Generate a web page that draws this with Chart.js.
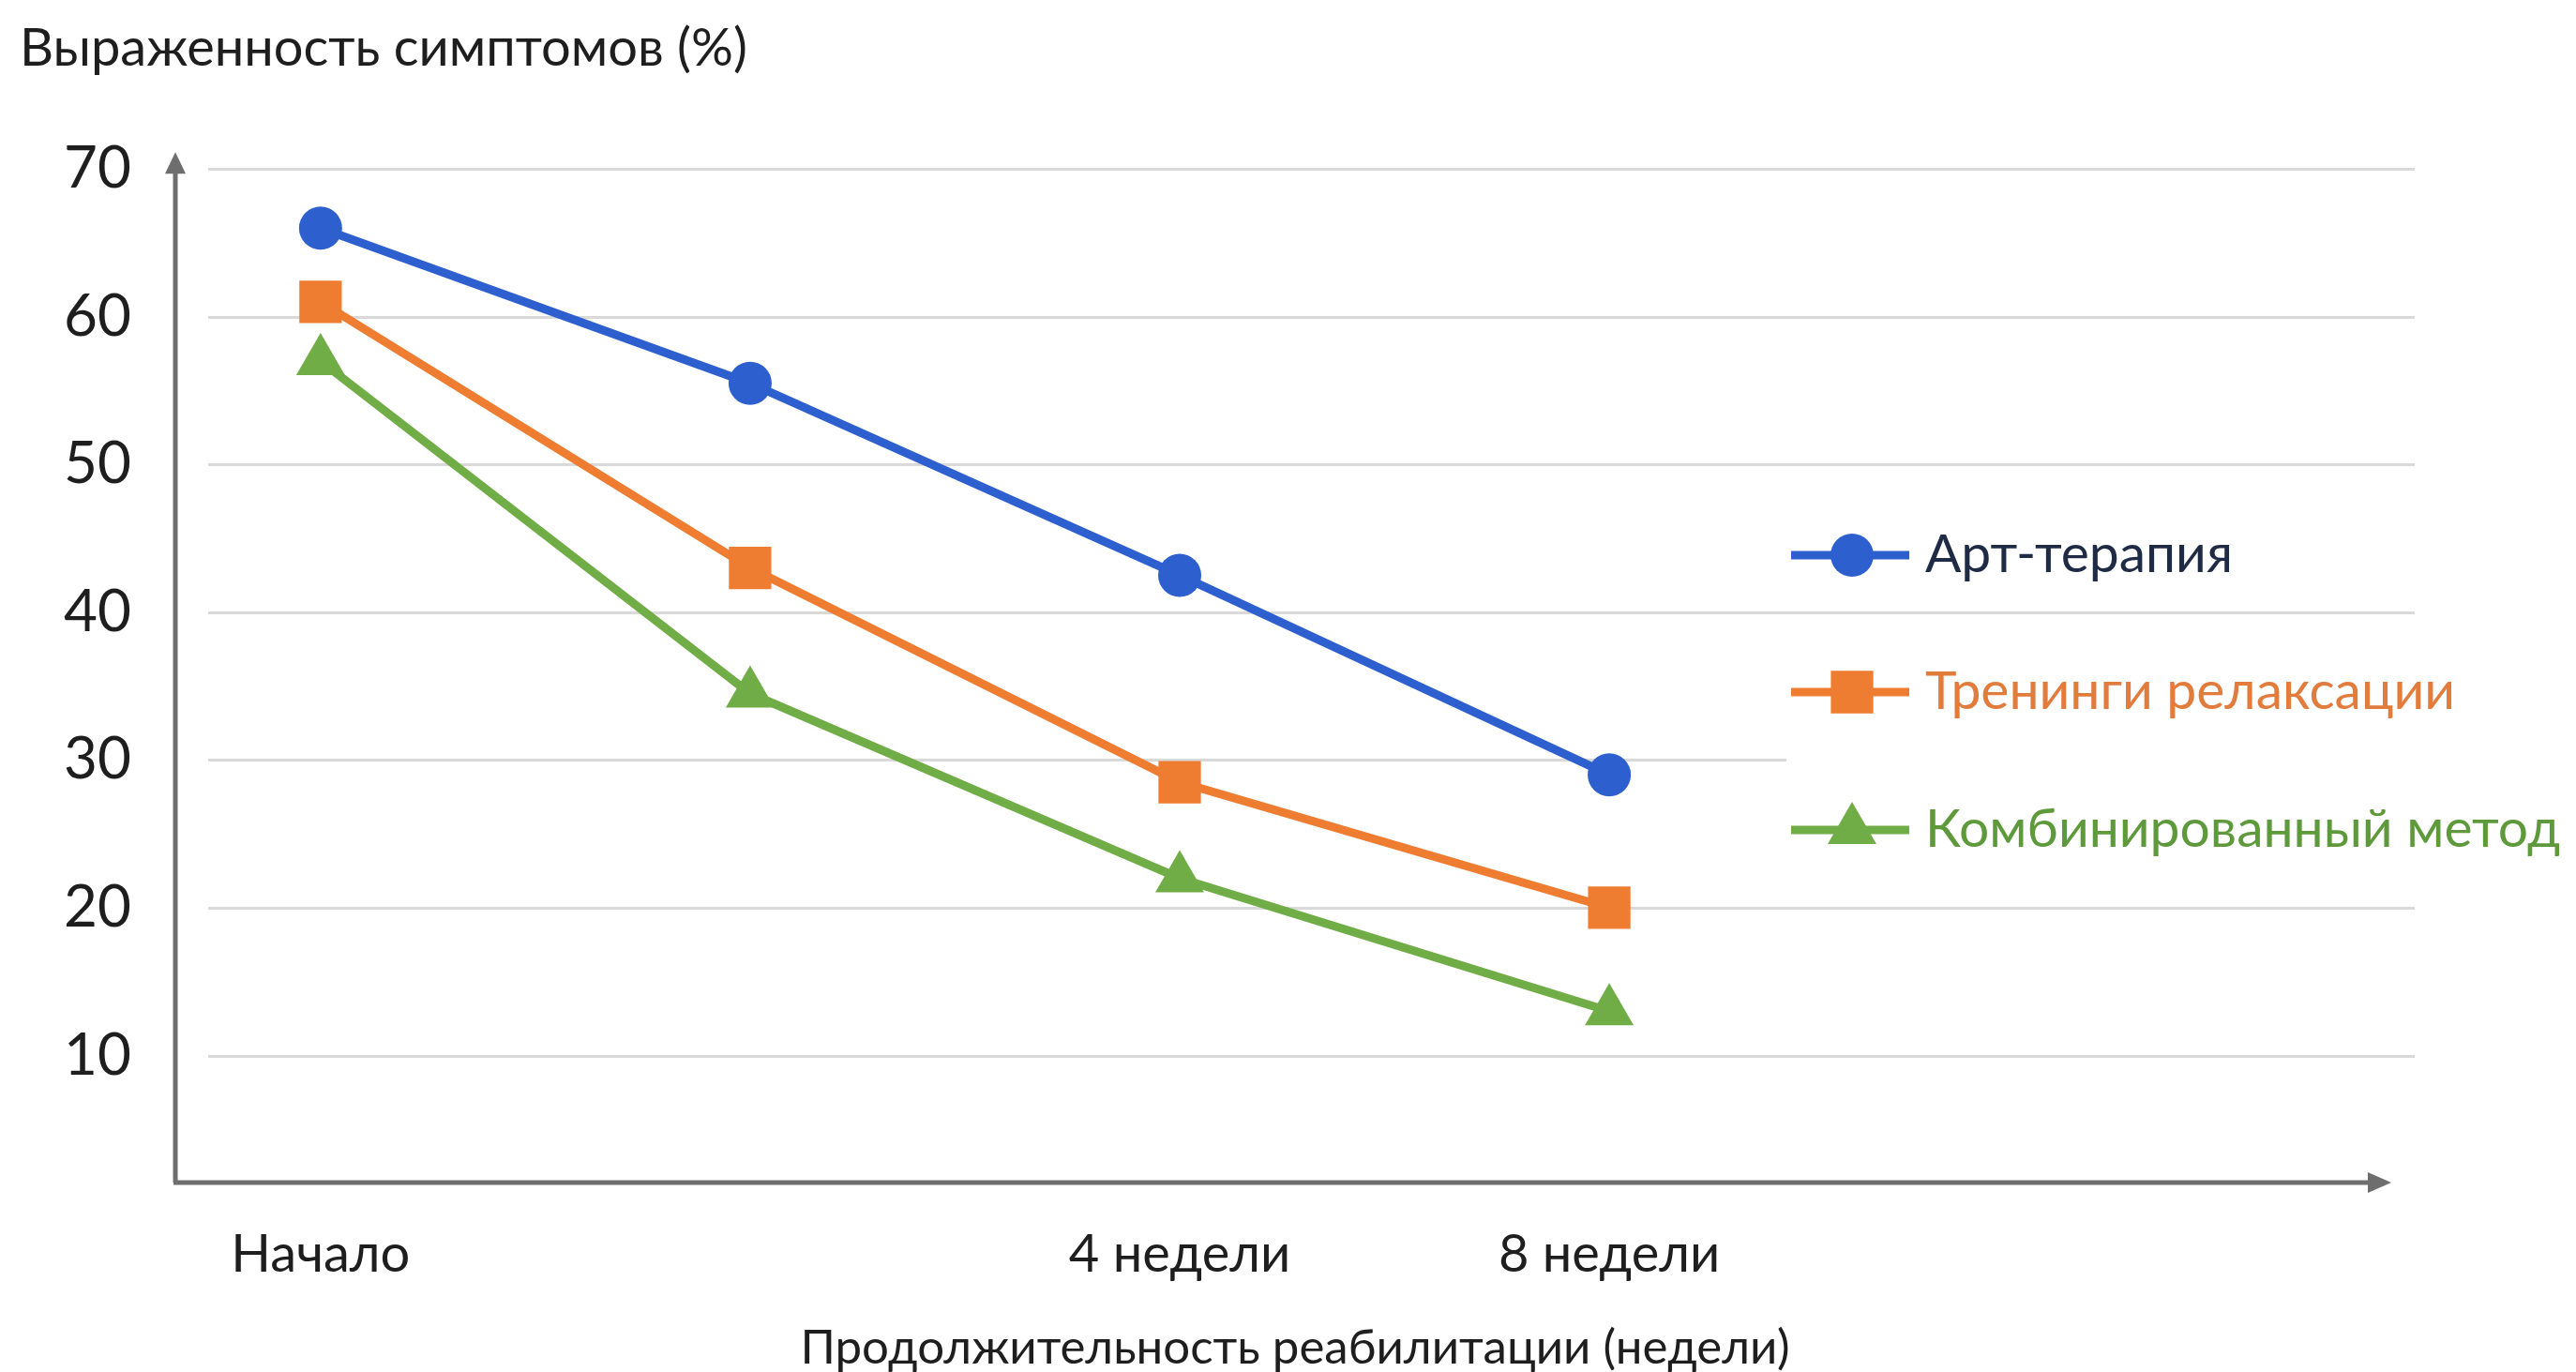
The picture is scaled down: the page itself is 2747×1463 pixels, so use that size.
<!DOCTYPE html>
<html><head><meta charset="utf-8">
<script src="https://cdn.jsdelivr.net/npm/chart.js@4/dist/chart.umd.min.js"></script>
<style>html,body{margin:0;padding:0;background:#fff;overflow:hidden}#wrap{width:2747px;height:1463px;position:relative}</style>
</head><body><div id="wrap"><canvas id="c"></canvas></div>
<script>
// ---- data ----
const categories = ['Начало', '', '4 недели', '8 недели'];
const artTherapy = [66, 55.5, 42.5, 29];
const relaxation = [61, 43, 28.5, 20];
const combined = [57, 34.5, 22, 13];
const yTicks = [10, 20, 30, 40, 50, 60, 70];
const seriesNames = ['Арт-терапия', 'Тренинги релаксации', 'Комбинированный метод'];
const yTitle = 'Выраженность симптомов (%)';
const xTitle = 'Продолжительность реабилитации (недели)';

// ---- styles ----
const FONT = 'Lato, "Noto Sans", sans-serif';
const colors = ['#2E5FCF', '#EE7D31', '#71AD47'];
const legendTextColors = ['#1F2A44', '#E27C3C', '#5E9A3C'];
const pointStyles = ['circle', 'rect', 'triangle'];
const pointRadii = [23, 32, 30];

function toXY(arr) { return arr.map((v, i) => ({x: i, y: v})); }

function drawMarker(ctx, style, r, x, y, color) {
  ctx.save();
  ctx.fillStyle = color;
  ctx.beginPath();
  if (style === 'circle') {
    ctx.arc(x, y, r, 0, Math.PI * 2);
  } else if (style === 'rect') {
    const s = r * Math.SQRT1_2;
    ctx.rect(x - s, y - s, 2 * s, 2 * s);
  } else {
    const a = Math.PI / 2;
    for (let k = 0; k < 3; k++) {
      const ang = -a + k * 2 * Math.PI / 3;
      const px = x + Math.cos(ang) * r, py = y + Math.sin(ang) * r;
      if (k === 0) ctx.moveTo(px, py); else ctx.lineTo(px, py);
    }
    ctx.closePath();
  }
  ctx.fill();
  ctx.restore();
}

const decor = {
  id: 'decor',
  beforeDatasetsDraw(chart) {
    const {ctx, chartArea: ca, scales} = chart;
    ctx.save();
    // gridlines
    ctx.strokeStyle = '#D9D9D9';
    ctx.lineWidth = 3;
    yTicks.forEach(v => {
      const y = Math.round(scales.y.getPixelForValue(v)) + 0.5;
      ctx.beginPath();
      ctx.moveTo(ca.left + 35, y);
      ctx.lineTo(ca.right, y);
      ctx.stroke();
    });
    // legend background patch
    ctx.fillStyle = '#ffffff';
    ctx.fillRect(1905, scales.y.getPixelForValue(30) - 30, 842, 60);
    // axes
    ctx.strokeStyle = '#6E6E6E';
    ctx.fillStyle = '#6E6E6E';
    ctx.lineWidth = 5;
    const x0 = ca.left, y0 = ca.bottom;
    ctx.beginPath();
    ctx.moveTo(x0, y0);
    ctx.lineTo(x0, ca.top - 2);
    ctx.moveTo(x0 - 2, y0);
    ctx.lineTo(2530, y0);
    ctx.stroke();
    ctx.beginPath();
    ctx.moveTo(x0, ca.top - 18);
    ctx.lineTo(x0 - 11, ca.top + 5);
    ctx.lineTo(x0 + 11, ca.top + 5);
    ctx.closePath();
    ctx.fill();
    ctx.beginPath();
    ctx.moveTo(2550, y0);
    ctx.lineTo(2525, y0 - 11);
    ctx.lineTo(2525, y0 + 11);
    ctx.closePath();
    ctx.fill();
    ctx.restore();
  },
  afterDraw(chart) {
    const {ctx} = chart;
    ctx.save();
    const rowY = [592, 738, 885];
    chart.data.datasets.forEach((ds, i) => {
      const y = rowY[i];
      ctx.strokeStyle = colors[i];
      ctx.lineWidth = 9;
      ctx.beginPath();
      ctx.moveTo(1910, y);
      ctx.lineTo(2036, y);
      ctx.stroke();
      drawMarker(ctx, pointStyles[i], pointRadii[i], 1975, y, colors[i]);
      ctx.fillStyle = legendTextColors[i];
      ctx.font = '57px ' + FONT;
      ctx.textBaseline = 'middle';
      ctx.textAlign = 'left';
      ctx.fillText(ds.label, 2053, y);
    });
    ctx.restore();
  }
};

const seriesData = [artTherapy, relaxation, combined];

new Chart(document.getElementById('c'), {
  type: 'line',
  data: {
    datasets: seriesData.map((d, i) => ({
      label: seriesNames[i],
      data: toXY(d),
      borderColor: colors[i],
      backgroundColor: colors[i],
      borderWidth: 9,
      pointStyle: pointStyles[i],
      pointRadius: pointRadii[i],
      pointBackgroundColor: colors[i],
      pointBorderColor: colors[i],
      pointBorderWidth: 0,
      tension: 0,
      fill: false
    }))
  },
  options: {
    responsive: true,
    maintainAspectRatio: false,
    devicePixelRatio: 1,
    animation: false,
    layout: {padding: {left: 21, right: 172, top: 0, bottom: 0}},
    plugins: {
      legend: {display: false},
      tooltip: {enabled: false},
      title: {
        display: true,
        text: yTitle,
        align: 'start',
        color: '#1E1E1E',
        font: {family: FONT, size: 56, weight: 'normal', lineHeight: 1.2},
        padding: {top: 18, bottom: 95}
      }
    },
    scales: {
      x: {
        type: 'linear',
        min: -0.338,
        max: 4.875,
        afterBuildTicks: s => { s.ticks = categories.map((c, i) => ({value: i})); },
        afterFit: s => { s.height = 202; },
        grid: {display: false, drawTicks: false},
        border: {display: false},
        ticks: {
          autoSkip: false,
          maxRotation: 0,
          padding: 43,
          color: '#1E1E1E',
          font: {family: FONT, size: 56, lineHeight: 1.2},
          callback: v => categories[v] !== undefined ? categories[v] : ''
        },
        title: {
          display: true,
          text: xTitle,
          color: '#1E1E1E',
          font: {family: FONT, size: 51, lineHeight: 1},
          padding: {top: 0, bottom: 0}
        }
      },
      y: {
        type: 'linear',
        min: 1.4,
        max: 70,
        afterBuildTicks: s => { s.ticks = yTicks.map(v => ({value: v})); },
        afterFit: s => { s.width = 166; },
        grid: {display: false, drawTicks: false},
        border: {display: false},
        ticks: {
          padding: 47,
          color: '#1E1E1E',
          font: {family: FONT, size: 62}
        }
      }
    }
  },
  plugins: [decor]
});
</script>
</body></html>
